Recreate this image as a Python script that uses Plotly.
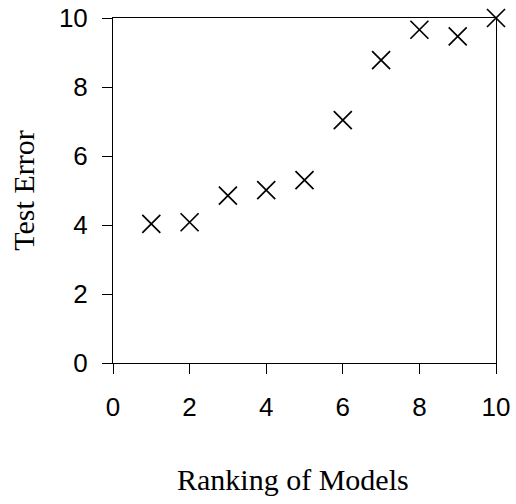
import plotly.graph_objects as go

# Model rank vs. test error
ranking = [1, 2, 3, 4, 5, 6, 7, 8, 9, 10]
test_error = [4.03, 4.08, 4.85, 5.01, 5.30, 7.04, 8.78, 9.66, 9.47, 10.0]
tick_vals = [0, 2, 4, 6, 8, 10]

fig = go.Figure(
    go.Scatter(
        x=ranking,
        y=test_error,
        mode="markers",
        marker=dict(symbol="x-thin", size=18, line=dict(color="black", width=1.7)),
        cliponaxis=False,
    )
)

axis_common = dict(
    range=[0, 10],
    tickvals=tick_vals,
    ticks="outside",
    ticklen=10,
    tickwidth=1,
    tickcolor="black",
    showline=True,
    linecolor="black",
    linewidth=1,
    mirror=True,
    showgrid=False,
    zeroline=False,
    automargin=False,
    tickfont=dict(family="Liberation Sans, Arial", size=26, color="black"),
)

title_font = dict(family="Liberation Serif, Times New Roman", size=30, color="black")

fig.update_xaxes(**axis_common, ticklabelstandoff=11)
fig.update_yaxes(
    **axis_common,
    ticklabelstandoff=9,
    title=dict(text="Test Error", font=title_font, standoff=15),
)

# x-axis caption, placed slightly left of the plot centre
fig.add_annotation(
    text="Ranking of Models",
    xref="paper",
    yref="paper",
    x=0.471,
    y=-0.338,
    xanchor="center",
    yanchor="middle",
    showarrow=False,
    font=title_font,
)

fig.update_layout(
    width=516,
    height=504,
    margin=dict(l=113, r=20, t=18, b=141),
    plot_bgcolor="white",
    paper_bgcolor="white",
    showlegend=False,
)

fig.write_html("out.html")
